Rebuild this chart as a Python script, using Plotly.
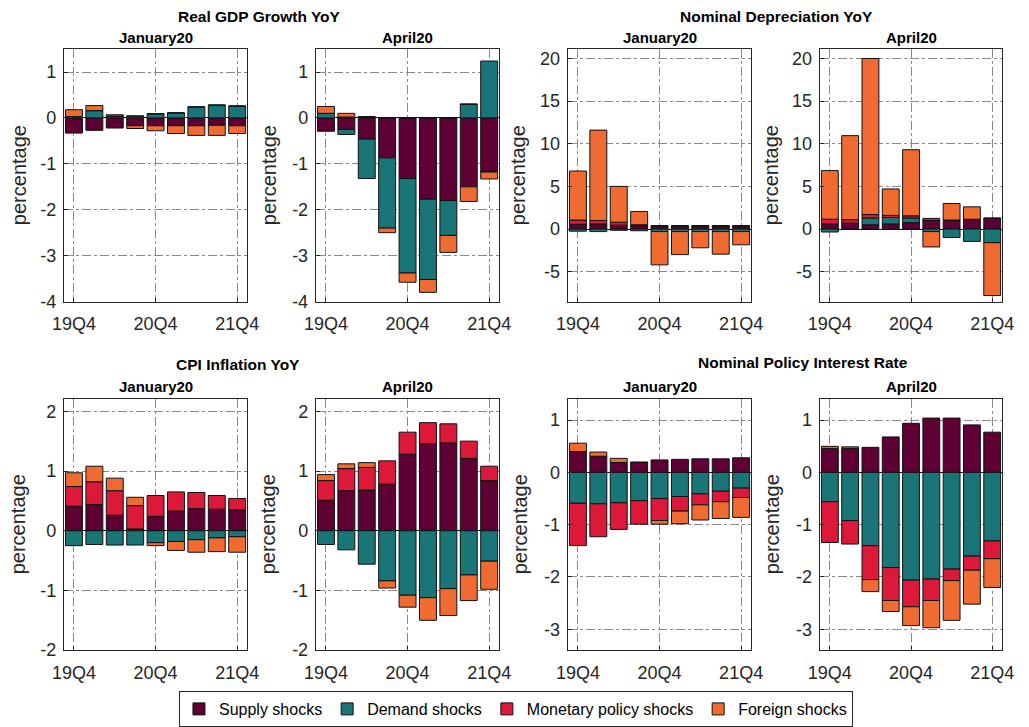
import plotly.graph_objects as go

# Quarters shown on every panel and the labelled ones
quarters = ["19Q4", "20Q1", "20Q2", "20Q3", "20Q4", "21Q1", "21Q2", "21Q3", "21Q4"]
tick_quarters = ["19Q4", "20Q4", "21Q4"]

shock_names = ["Supply shocks", "Demand shocks", "Monetary policy shocks", "Foreign shocks"]
shock_colors = ["#5E0033", "#1A7576", "#DD1939", "#F06B32"]

# Real GDP growth YoY
gdp_jan_supply = [-0.33, -0.27, -0.22, -0.17, -0.17, -0.17, -0.17, -0.16, -0.17]
gdp_jan_demand = [0.03, 0.16, 0.04, 0.04, 0.09, 0.11, 0.24, 0.28, 0.26]
gdp_jan_monetary = [0.0, 0.0, 0.0, 0.0, 0.0, 0.0, 0.0, 0.0, 0.0]
gdp_jan_foreign = [0.15, 0.11, 0.03, -0.06, -0.11, -0.17, -0.21, -0.22, -0.17]

gdp_apr_supply = [-0.29, -0.25, -0.46, -0.87, -1.32, -1.77, -1.80, -1.50, -1.16]
gdp_apr_demand = [0.10, -0.11, -0.86, -1.53, -2.06, -1.75, -0.76, 0.30, 1.24]
gdp_apr_monetary = [0.0, 0.02, 0.02, 0.01, 0.0, 0.0, 0.0, 0.0, -0.02]
gdp_apr_foreign = [0.15, 0.08, 0.01, -0.10, -0.20, -0.28, -0.37, -0.32, -0.15]

# Nominal depreciation YoY
dep_jan_supply = [0.55, 0.60, 0.45, 0.40, 0.35, 0.35, 0.35, 0.35, 0.35]
dep_jan_demand = [-0.25, -0.30, -0.15, -0.20, -0.30, -0.30, -0.30, -0.30, -0.30]
dep_jan_monetary = [0.50, 0.40, 0.35, 0.10, 0.05, 0.05, 0.05, 0.05, 0.05]
dep_jan_foreign = [5.75, 10.60, 4.20, 1.55, -3.90, -2.70, -1.90, -2.65, -1.55]

dep_apr_supply = [0.60, 0.65, 0.50, 0.60, 0.75, 1.00, 1.05, 1.15, 1.25]
dep_apr_demand = [-0.35, 0.05, 0.80, 0.75, 0.55, -0.30, -1.00, -1.45, -1.60]
dep_apr_monetary = [0.55, 0.40, 0.40, 0.25, 0.25, 0.25, 0.0, 0.0, 0.05]
dep_apr_foreign = [5.70, 9.85, 18.30, 3.10, 7.75, -1.80, 1.95, 1.45, -6.20]

# CPI inflation YoY
cpi_jan_supply = [0.41, 0.44, 0.26, 0.03, 0.24, 0.33, 0.37, 0.36, 0.35]
cpi_jan_demand = [-0.25, -0.23, -0.24, -0.24, -0.20, -0.18, -0.15, -0.12, -0.10]
cpi_jan_monetary = [0.33, 0.38, 0.41, 0.39, 0.35, 0.32, 0.27, 0.23, 0.19]
cpi_jan_foreign = [0.23, 0.26, 0.21, 0.14, -0.05, -0.15, -0.21, -0.23, -0.26]

cpi_apr_supply = [0.51, 0.67, 0.68, 0.78, 1.28, 1.46, 1.47, 1.21, 0.84]
cpi_apr_demand = [-0.23, -0.32, -0.56, -0.84, -1.08, -1.12, -0.97, -0.74, -0.51]
cpi_apr_monetary = [0.33, 0.37, 0.38, 0.39, 0.37, 0.35, 0.32, 0.29, 0.24]
cpi_apr_foreign = [0.10, 0.08, 0.08, -0.12, -0.20, -0.38, -0.45, -0.43, -0.47]

# Nominal policy interest rate
rate_jan_supply = [0.40, 0.31, 0.19, 0.19, 0.24, 0.25, 0.26, 0.26, 0.28]
rate_jan_demand = [-0.59, -0.60, -0.58, -0.54, -0.50, -0.46, -0.41, -0.36, -0.30]
rate_jan_monetary = [-0.81, -0.63, -0.51, -0.45, -0.42, -0.28, -0.21, -0.20, -0.18]
rate_jan_foreign = [0.16, 0.08, 0.08, 0.01, -0.07, -0.24, -0.29, -0.32, -0.38]

rate_apr_supply = [0.46, 0.46, 0.48, 0.68, 0.94, 1.04, 1.04, 0.91, 0.77]
rate_apr_demand = [-0.56, -0.92, -1.40, -1.82, -2.06, -2.04, -1.85, -1.60, -1.31]
rate_apr_monetary = [-0.78, -0.45, -0.65, -0.63, -0.51, -0.41, -0.22, -0.27, -0.34]
rate_apr_foreign = [0.04, 0.03, -0.23, -0.21, -0.36, -0.52, -0.76, -0.65, -0.55]

# y tick values per indicator
gdp_ticks = [-4, -3, -2, -1, 0, 1]
dep_ticks = [-5, 0, 5, 10, 15, 20]
cpi_ticks = [-2, -1, 0, 1, 2]
rate_ticks = [-3, -2, -1, 0, 1]

W, H = 1029, 727
FONT = "Liberation Sans, Arial, Helvetica, sans-serif"
INK = "#262626"

cols = [(53, 241), (311, 499), (569, 757), (827, 1014)]
rows = [(50, 307), (406, 662)]
# series, row, column, y range, y ticks, subtitle, x position of the y-axis label
panels = [
    ([gdp_jan_supply, gdp_jan_demand, gdp_jan_monetary, gdp_jan_foreign], 0, 0, [-4, 1.5], gdp_ticks, "January20", 7),
    ([gdp_apr_supply, gdp_apr_demand, gdp_apr_monetary, gdp_apr_foreign], 0, 1, [-4, 1.5], gdp_ticks, "April20", 263),
    ([dep_jan_supply, dep_jan_demand, dep_jan_monetary, dep_jan_foreign], 0, 2, [-8.5, 21.1], dep_ticks, "January20", 518),
    ([dep_apr_supply, dep_apr_demand, dep_apr_monetary, dep_apr_foreign], 0, 3, [-8.5, 21.1], dep_ticks, "April20", 777),
    ([cpi_jan_supply, cpi_jan_demand, cpi_jan_monetary, cpi_jan_foreign], 1, 0, [-2, 2.21], cpi_ticks, "January20", 7),
    ([cpi_apr_supply, cpi_apr_demand, cpi_apr_monetary, cpi_apr_foreign], 1, 1, [-2, 2.21], cpi_ticks, "April20", 263),
    ([rate_jan_supply, rate_jan_demand, rate_jan_monetary, rate_jan_foreign], 1, 2, [-3.4, 1.41], rate_ticks, "January20", 521),
    ([rate_apr_supply, rate_apr_demand, rate_apr_monetary, rate_apr_foreign], 1, 3, [-3.4, 1.41], rate_ticks, "April20", 779),
]

fig = go.Figure()
annotations = []
layout_axes = {}

for i, (series, r, c, yr, yt, sub, lab_x) in enumerate(panels):
    k = "" if i == 0 else str(i + 1)
    x0, x1 = cols[c]
    y0, y1 = rows[r]
    for j, vals in enumerate(series):
        fig.add_trace(go.Bar(
            x=quarters, y=vals, name=shock_names[j],
            marker=dict(color=shock_colors[j], line=dict(color="#111111", width=1)),
            xaxis="x" + k, yaxis="y" + k,
            legendgroup=shock_names[j], showlegend=(i == 0),
        ))
    layout_axes["xaxis" + k] = dict(
        domain=[x0 / W, x1 / W], anchor="y" + k, type="category",
        categoryorder="array", categoryarray=quarters,
        range=[-0.5, 8.5], tickmode="array", tickvals=tick_quarters, ticktext=tick_quarters,
        showgrid=True, gridcolor="#8a8a8a", griddash="dashdot", gridwidth=1,
        showline=True, mirror=True, linecolor=INK, linewidth=1,
        ticks="inside", ticklen=4, tickcolor=INK, ticklabelstandoff=6,
        tickfont=dict(size=18, color=INK, family=FONT), zeroline=False,
    )
    layout_axes["yaxis" + k] = dict(
        domain=[1 - y1 / H, 1 - y0 / H], anchor="x" + k, range=yr,
        tickmode="array", tickvals=yt, ticktext=[str(v) for v in yt],
        showgrid=True, gridcolor="#8a8a8a", griddash="dashdot", gridwidth=1,
        zeroline=True, zerolinecolor="#111111", zerolinewidth=1,
        showline=True, mirror=True, linecolor=INK, linewidth=1,
        ticks="inside", ticklen=4, tickcolor=INK, ticklabelstandoff=3,
        tickfont=dict(size=18, color=INK, family=FONT),
    )
    annotations.append(dict(
        text="<b>%s</b>" % sub, x=(x0 + x1) / 2 / W, y=1 - (y0 - 12) / H,
        xref="paper", yref="paper", showarrow=False,
        xanchor="center", yanchor="middle", font=dict(size=15, color="#000000", family=FONT),
    ))
    annotations.append(dict(
        text="percentage", x=lab_x / W, y=1 - (y0 + y1) / 2 / H,
        xref="paper", yref="paper", showarrow=False, textangle=-90,
        xanchor="center", yanchor="middle", font=dict(size=20, color=INK, family=FONT),
    ))

# Block titles above each pair of panels
block_titles = [
    ("Real GDP Growth YoY", 253, 17),
    ("Nominal Depreciation YoY", 783, 17),
    ("CPI Inflation YoY", 231, 371),
    ("Nominal Policy Interest Rate", 810, 369),
]
for text, px, py in block_titles:
    annotations.append(dict(
        text="<b>%s</b>" % text, x=px / W, y=1 - py / H,
        xref="paper", yref="paper", showarrow=False,
        xanchor="center", yanchor="middle", font=dict(size=15.5, color="#000000", family=FONT),
    ))

fig.update_layout(
    width=W, height=H,
    margin=dict(l=0, r=0, t=0, b=0),
    paper_bgcolor="white", plot_bgcolor="white",
    barmode="relative", bargap=0.17,
    font=dict(family=FONT, color=INK),
    annotations=annotations,
    legend=dict(
        orientation="h", x=516 / W, y=1 - 722 / H, xanchor="center", yanchor="middle",
        bordercolor=INK, borderwidth=1, bgcolor="white",
        font=dict(size=16, color="#000000", family=FONT),
        itemwidth=30, tracegroupgap=0,
    ),
    **layout_axes,
)

fig.write_html("out.html")
